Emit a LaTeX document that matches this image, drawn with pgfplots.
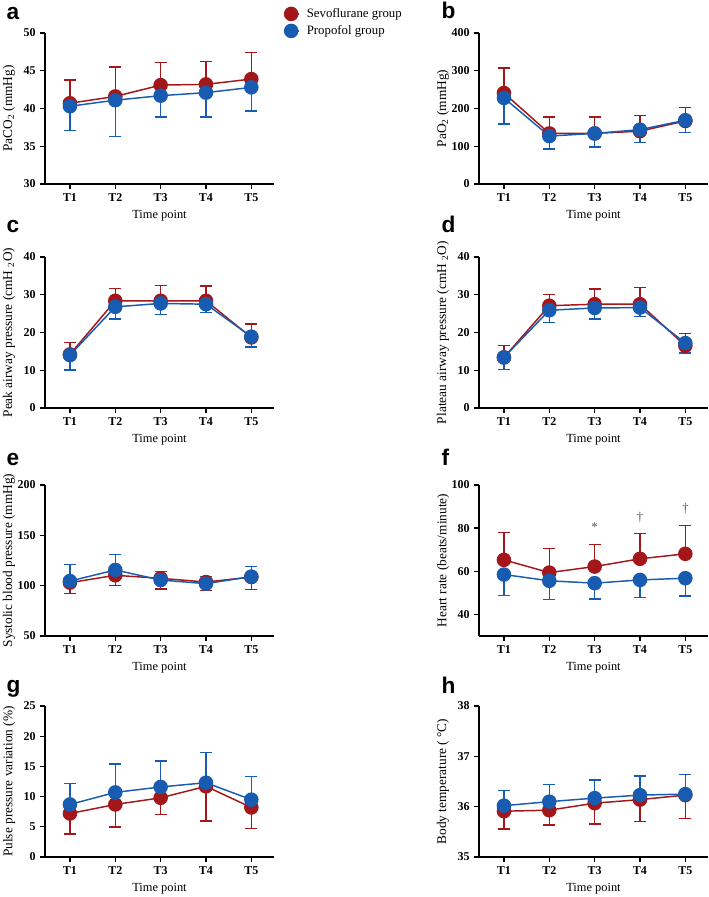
\documentclass[border=0pt]{standalone}
\usepackage{fontspec}
\setmainfont{Liberation Serif}
\newfontfamily\panelfont{Liberation Sans}
\usepackage{pgfplots}
\pgfplotsset{compat=1.18}

\definecolor{sevo}{RGB}{163,22,25}
\definecolor{prop}{RGB}{24,92,178}

\pgfplotsset{
  panel/.style={
    scale only axis, width=171.75pt, height=113.25pt,
    anchor=south west,
    axis lines=left, axis line style={-, line width=1pt},
    xmin=0.45, xmax=5.5,
    xtick={1,2,3,4,5}, xticklabels={T1,T2,T3,T4,T5},
    tick align=outside, major tick length=3.5pt,
    tick style={black, line width=1pt},
    /pgf/number format/assume math mode=true,
    tick label style={font=\fontsize{9}{10}\selectfont\bfseries},
    label style={font=\fontsize{9.3}{11}\selectfont},
    every axis y label/.style={at={(axis description cs:-0.157,0.5)}, rotate=90, anchor=center},
    xlabel={Time point},
    clip=false,
  },
  sevoplot/.style={color=sevo, line width=1.1pt, mark=*, mark size=4.9pt,
    mark options={solid, fill=sevo},
    /pgfplots/error bars/y explicit, /pgfplots/error bars/y dir=#1,
    /pgfplots/error bars/error bar style={line width=1.1pt},
    /pgfplots/error bars/error mark options={rotate=90, line width=1.1pt, mark size=4.5pt}},
  propplot/.style={color=prop, line width=1.1pt, mark=*, mark size=4.9pt,
    mark options={solid, fill=prop},
    /pgfplots/error bars/y explicit, /pgfplots/error bars/y dir=#1,
    /pgfplots/error bars/error bar style={line width=1.1pt},
    /pgfplots/error bars/error mark options={rotate=90, line width=1.1pt, mark size=4.5pt}},
}
\tikzset{panel letter/.style={anchor=base west, font={\panelfont\bfseries\fontsize{17}{20}\selectfont}}}

\begin{document}
\begin{tikzpicture}
\useasboundingbox (0,0) rectangle (531.75pt,-672.75pt);

% a: PaCO2
\begin{axis}[panel, at={(33.75pt,-138pt)},
  ymin=30, ymax=50, ytick={30,35,40,45,50},
  ylabel={PaCO\textsubscript{2} (mmHg)},
  legend style={at={(1.02,1.2)}, anchor=north west, draw=none, fill=none,
    font=\fontsize{9.6}{11}\selectfont, row sep=0.5pt,
    /tikz/every odd column/.append style={column sep=3.5pt}},
  legend cell align=left,
  legend image code/.code={\draw[mark repeat=2, mark phase=2]
    plot coordinates {(0cm,0cm) (0.2cm,0cm) (0.4cm,0cm)};}]
\addplot[sevoplot=plus] coordinates {(1,40.7) +- (0,3.1) (2,41.6) +- (0,3.9) (3,43.1) +- (0,3.0) (4,43.2) +- (0,3.0) (5,43.9) +- (0,3.5)};
\addplot[propplot=minus] coordinates {(1,40.3) +- (0,3.2) (2,41.1) +- (0,4.8) (3,41.7) +- (0,2.8) (4,42.1) +- (0,3.2) (5,42.8) +- (0,3.1)};
\legend{Sevoflurane group, Propofol group}
\end{axis}

% b: PaO2
\begin{axis}[panel, at={(359.25pt,-138pt)},
  ymin=0, ymax=400, ytick={0,100,200,300,400},
  ylabel={PaO\textsubscript{2} (mmHg)}]
\addplot[sevoplot=plus] coordinates {(1,241) +- (0,66) (2,134) +- (0,44) (3,134) +- (0,44) (4,140) +- (0,41) (5,167) +- (0,35)};
\addplot[propplot=minus] coordinates {(1,228) +- (0,69) (2,127) +- (0,34) (3,134) +- (0,36) (4,144) +- (0,34) (5,169) +- (0,33)};
\end{axis}

% c: peak airway pressure
\begin{axis}[panel, at={(33.75pt,-306pt)},
  ymin=0, ymax=40, ytick={0,10,20,30,40},
  ylabel={Peak airway pressure (cmH \textsubscript{2}O)}]
\addplot[sevoplot=plus] coordinates {(1,14.2) +- (0,3.2) (2,28.4) +- (0,3.2) (3,28.4) +- (0,4.1) (4,28.4) +- (0,3.9) (5,18.7) +- (0,3.6)};
\addplot[propplot=minus] coordinates {(1,14.0) +- (0,3.9) (2,26.8) +- (0,3.2) (3,27.7) +- (0,2.9) (4,27.5) +- (0,2.2) (5,18.9) +- (0,2.7)};
\end{axis}

% d: plateau airway pressure
\begin{axis}[panel, at={(359.25pt,-306pt)},
  ymin=0, ymax=40, ytick={0,10,20,30,40},
  ylabel={Plateau airway pressure (cmH \textsubscript{2}O)}]
\addplot[sevoplot=plus] coordinates {(1,13.4) +- (0,3.2) (2,27.1) +- (0,3.0) (3,27.5) +- (0,4.0) (4,27.5) +- (0,4.4) (5,16.5) +- (0,3.2)};
\addplot[propplot=minus] coordinates {(1,13.4) +- (0,3.2) (2,25.9) +- (0,3.3) (3,26.5) +- (0,2.9) (4,26.6) +- (0,2.3) (5,17.2) +- (0,2.6)};
\end{axis}

% e: systolic blood pressure
\begin{axis}[panel, at={(33.75pt,-477pt)},
  ymin=50, ymax=200, ytick={50,100,150,200},
  ylabel={Systolic blood pressure (mmHg)}]
\addplot[sevoplot=minus] coordinates {(1,103) +- (0,10.6) (2,110.3) +- (0,10) (3,107.3) +- (0,10.6) (4,103.6) +- (0,8.2) (5,108.6) +- (0,12.2)};
\addplot[propplot=plus] coordinates {(1,104.6) +- (0,16.6) (2,115.6) +- (0,15.5) (3,105.6) +- (0,8.6) (4,102) +- (0,7) (5,109) +- (0,10.2)};
\end{axis}

% f: heart rate
\begin{axis}[panel, at={(359.25pt,-477pt)},
  ymin=30, ymax=100, ytick={40,60,80,100},
  ylabel={Heart rate (beats/minute)}]
\addplot[sevoplot=plus] coordinates {(1,65.3) +- (0,12.6) (2,59.4) +- (0,11.1) (3,62.2) +- (0,10.3) (4,65.8) +- (0,11.7) (5,68.1) +- (0,13.2)};
\addplot[propplot=minus] coordinates {(1,58.5) +- (0,9.7) (2,55.6) +- (0,8.7) (3,54.5) +- (0,7.4) (4,56) +- (0,8.1) (5,56.8) +- (0,8.2)};
\node[black!65, font=\fontsize{10}{12}\selectfont] at (axis cs:3,80.6) {*};
\node[black!65, font=\fontsize{10}{12}\selectfont] at (axis cs:4,84.7) {†};
\node[black!65, font=\fontsize{10}{12}\selectfont] at (axis cs:5,89.2) {†};
\end{axis}

% g: pulse pressure variation
\begin{axis}[panel, at={(33.75pt,-642.75pt)},
  ymin=0, ymax=25, ytick={0,5,10,15,20,25},
  ylabel={Pulse pressure variation (\%)}]
\addplot[sevoplot=minus] coordinates {(1,7.2) +- (0,3.4) (2,8.7) +- (0,3.7) (3,9.8) +- (0,2.8) (4,11.7) +- (0,5.7) (5,8.2) +- (0,3.5)};
\addplot[propplot=plus] coordinates {(1,8.7) +- (0,3.5) (2,10.7) +- (0,4.7) (3,11.6) +- (0,4.3) (4,12.3) +- (0,5.0) (5,9.5) +- (0,3.8)};
\end{axis}

% h: body temperature
\begin{axis}[panel, at={(359.25pt,-642.75pt)},
  ymin=35, ymax=38, ytick={35,36,37,38},
  ylabel={Body temperature ( °C)}]
\addplot[sevoplot=minus] coordinates {(1,35.91) +- (0,0.35) (2,35.93) +- (0,0.29) (3,36.07) +- (0,0.41) (4,36.14) +- (0,0.43) (5,36.23) +- (0,0.47)};
\addplot[propplot=plus] coordinates {(1,36.02) +- (0,0.30) (2,36.10) +- (0,0.34) (3,36.17) +- (0,0.36) (4,36.23) +- (0,0.38) (5,36.25) +- (0,0.39)};
\end{axis}

\node[panel letter] at (1.5pt,-14.25pt) {a};
\node[panel letter] at (327.75pt,-13.5pt) {b};
\node[panel letter] at (1.5pt,-174pt) {c};
\node[panel letter] at (327.75pt,-174pt) {d};
\node[panel letter] at (1.5pt,-348.75pt) {e};
\node[panel letter] at (327.75pt,-348.75pt) {f};
\node[panel letter] at (1.5pt,-519pt) {g};
\node[panel letter] at (327.75pt,-519.75pt) {h};
\end{tikzpicture}
\end{document}
